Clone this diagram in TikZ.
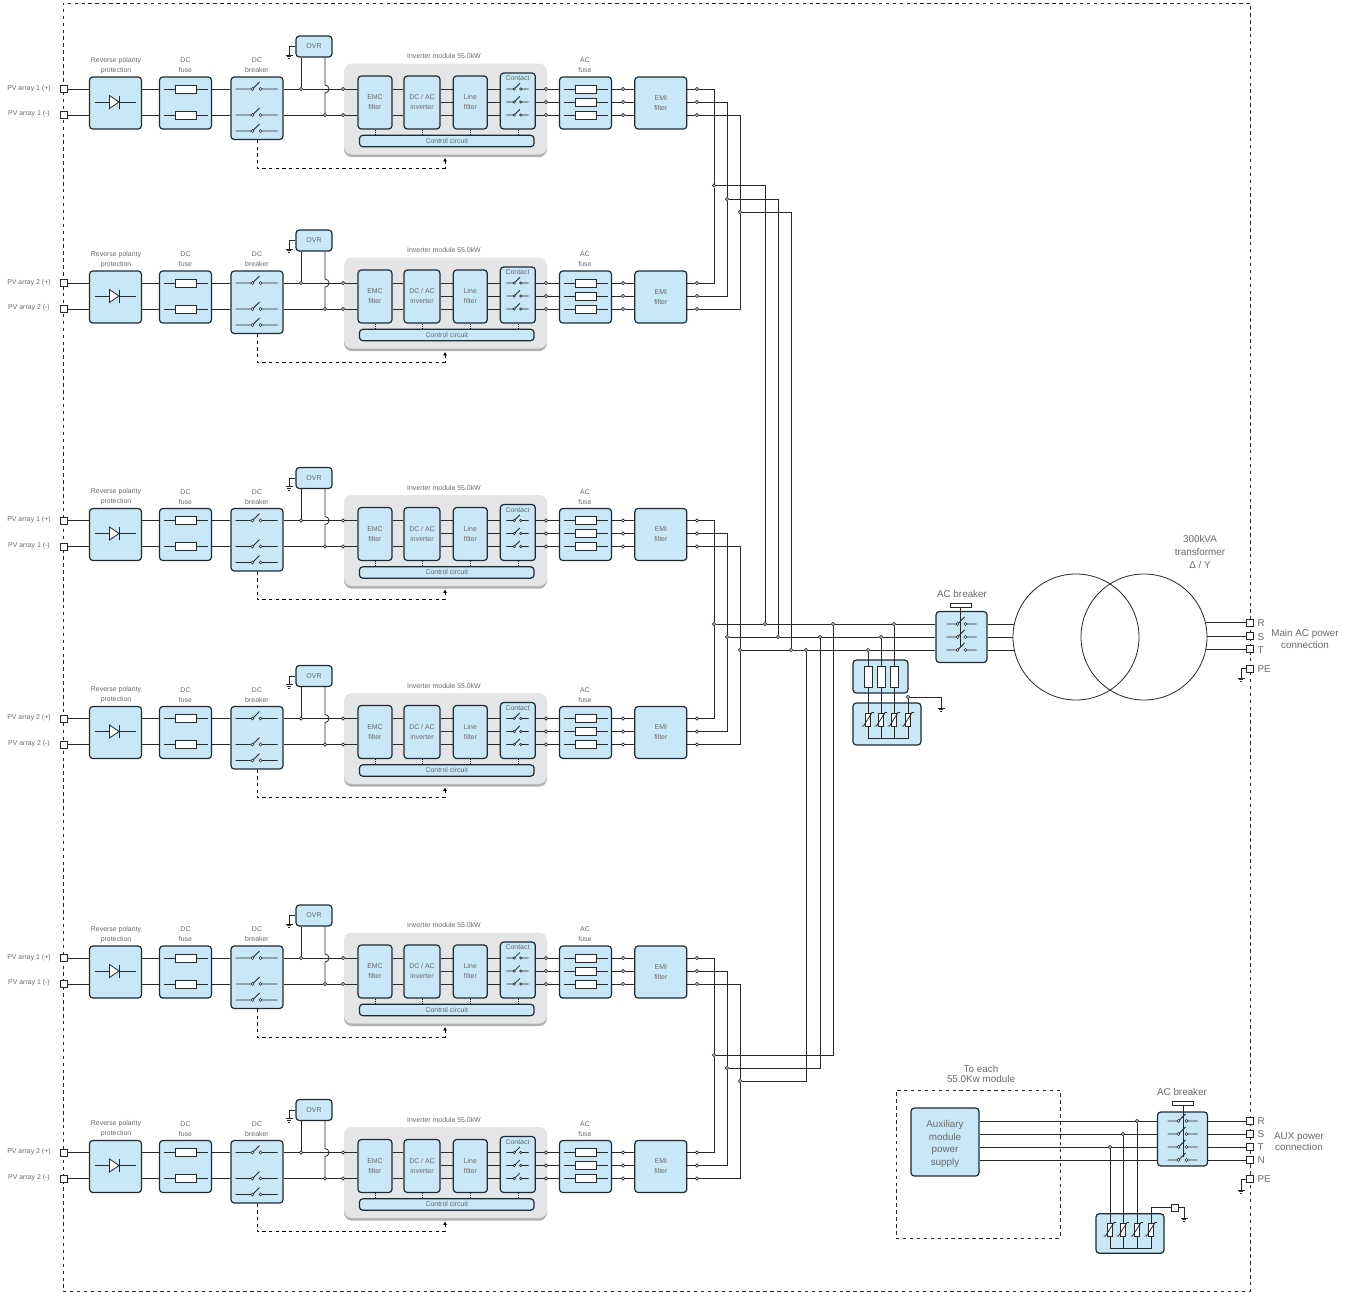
\documentclass[tikz,border=0pt]{standalone}
\usepackage{fontspec}
\setmainfont{Liberation Sans}
\usetikzlibrary{positioning}
\usetikzlibrary{shadows}
\usetikzlibrary{arrows.meta}
\definecolor{Box-blue}{RGB}{200,231,247}
\definecolor{Box-line}{RGB}{30,42,50}
\definecolor{Mod-gray}{RGB}{228,229,230}
\definecolor{Wire-dark}{RGB}{40,40,40}
\definecolor{Txt-gray}{RGB}{105,105,105}

\begin{document}
\begin{tikzpicture}[x=0.75pt, y=-0.75pt]
    \tikzset{ blk/.style={draw=Box-line, fill=Box-blue, rounded corners=2.5pt, line width=.9pt, inner sep=0pt, minimum width=39pt, minimum height=39pt} }
    \tikzset{ mdb/.style={fill=Mod-gray, rounded corners=6pt, inner sep=0pt, minimum width=152.25pt, minimum height=68.25pt, drop shadow={shadow xshift=0pt, shadow yshift=-2pt, fill=black, opacity=.3}} }
    \tikzset{ trm/.style={draw=Wire-dark, fill=white, line width=.7pt, inner sep=0pt, minimum size=5.25pt} }
    \tikzset{ dot/.style={circle, draw=Wire-dark, fill=white, line width=.5pt, inner sep=0pt, minimum size=2.5pt} }
    \tikzset{ hdl/.style={draw=Wire-dark, fill=white, line width=.5pt, inner sep=0pt, minimum width=15.75pt, minimum height=3pt} }
    \tikzset{ vrs/.style={draw=Wire-dark, fill=white, line width=.5pt, inner sep=0pt, minimum width=3.75pt, minimum height=9.75pt} }
    \tikzset{ frm/.style={draw=Wire-dark, line width=.6pt, dash pattern=on 2.6pt off 2.6pt, inner sep=0pt} }
    \tikzset{ wr/.style={draw=Wire-dark, line width=.6pt} }
    \tikzset{ txs/.style={text=Txt-gray, align=center, inner sep=0pt, font=\fontsize{5.2pt}{7.5pt}\selectfont} }
    \tikzset{ txb/.style={text=Txt-gray, align=center, inner sep=0pt, font=\fontsize{7.4pt}{9pt}\selectfont} }
    \tikzset{ sw/.pic={\draw[wr] (-#1,0) -- (-4,0) (-4,0) -- (3,-7) (4,0) -- (#1,0);
                       \draw[wr, fill=white, line width=.5pt] (-4,0) circle[radius=1.5] (4,0) circle[radius=1.5];} }
    \tikzset{ fz/.pic={\draw[wr, fill=white] (-10.5,-4) rectangle (10.5,4);} }
    \tikzset{ fzl/.pic={\draw[wr] (-22,0) -- (22,0); \draw[wr, fill=white] (-10.5,-4) rectangle (10.5,4);} }
    \tikzset{ dio/.pic={\draw[wr] (-21,0) -- (-6,0) (4,0) -- (20,0) (4,-6.5) -- (4,6.5);
                        \draw[wr, fill=white] (-6,-6.5) -- (3.5,0) -- (-6,6.5) -- cycle;} }
    \tikzset{ gnd/.pic={\draw[wr] (-3.5,0) -- (3.5,0) (-2.2,1.8) -- (2.2,1.8) (-1,3.6) -- (1,3.6);} }
    \tikzset{ vsl/.pic={\draw[wr] (-6.5,6.5) -- (-4.5,6.5) -- (4,-7) -- (6,-7);} }

    \useasboundingbox (0,0) rectangle (1353,1292);
    \node[frm, minimum width=890.25pt, minimum height=966pt] (fr) at (656.5,647) {};

    \foreach \i/\y/\n in {1/89/1, 2/283/2, 3/520.5/1, 4/718.5/2, 5/958/1, 6/1152.5/2} {
      \begin{scope}[shift={(0,\y)}]
        \node[trm] (pp\i) at (64,0)  {};
        \node[trm] (pn\i) at (64,26) {};
        \node[txs] (lp\i) at (29,-0.5) {PV array \n\ (+)};
        \node[txs] (ln\i) at (29,25)   {PV array \n\ (-)};

        \node[mdb] (im\i) at (445.5,20) {};
        \node[txs] (lm\i) at (444,-32.5) {Inverter module 55.0kW};

        \node[blk]                        (rp\i) at (115.5,14) {};
        \node[blk, right=12.6pt of rp\i]  (df\i)               {};
        \node[blk, minimum height=46.9pt] (br\i) at (257,19.25) {};
        \node[blk, minimum width=27pt, minimum height=15.75pt, txs] (ov\i) at (314,-42.5) {OVR};
        \node[txs] (l1\i) at (116,-23.5)   {Reverse polarity\\protection};
        \node[txs] (l2\i) at (185.5,-23.5) {DC\\fuse};
        \node[txs] (l3\i) at (257,-23.5)   {DC\\breaker};
        \node[txs] (l4\i) at (585,-23.5)   {AC\\fuse};

        \node[blk, txs, minimum width=25.5pt, minimum height=39.75pt]                      (em\i) at (375,13.5) {EMC\\filter};
        \node[blk, txs, minimum width=27pt, minimum height=39.75pt, right=8.1pt of em\i]   (dc\i)               {DC / AC\\inverter};
        \node[blk, txs, minimum width=25.5pt, minimum height=39.75pt, right=9.1pt of dc\i] (lf\i)               {Line\\filter};
        \node[blk, minimum width=26.25pt, minimum height=42pt, right=8.85pt of lf\i, yshift=1.1pt] (ct\i)       {};
        \node[txs] (lc\i) at (517.5,-10.5) {Contact};
        \node[blk, txs, minimum width=131pt, minimum height=8.5pt] (cc\i) at (446.75,52) {Control circuit};
        \node[blk]                      (af\i) at (585.5,14) {};
        \node[blk, txs, right=16.6pt of af\i] (ef\i)         {EMI\\filter};

        \node[dot] (o1\i) at (301,0)  {};
        \node[dot] (o2\i) at (325,26) {};
        \node[dot] (o3\i) at (343,0)  {};
        \node[dot] (o4\i) at (343,26) {};
        \coordinate (og\i) at (289,-34);
        \coordinate (ob\i) at (325,0);
        \coordinate (dn\i) at (445,79);
        \coordinate (dt\i) at (445,69);

        \foreach \p/\q in {a/0, b/13, c/26} {
          \node[dot] (da\p\i) at (546,\q) {};
          \node[dot] (db\p\i) at (623,\q) {};
          \node[dot] (eo\p\i) at (697,\q) {};
          \draw[wr] (dc\i.east |- da\p\i) -- (lf\i.west |- da\p\i);
          \draw[wr] (lf\i.east |- da\p\i) -- (ct\i.west |- da\p\i);
          \draw[wr] (ct\i.east |- da\p\i) -- (da\p\i);
          \draw[wr] (da\p\i) -- (af\i.west |- da\p\i);
          \draw[wr] (af\i.east |- db\p\i) -- (db\p\i);
          \draw[wr] (db\p\i) -- (ef\i.west |- db\p\i);
          \draw[wr] (ef\i.east |- eo\p\i) -- (eo\p\i);
          \pic[scale=.8] at (517.5,\q) {sw=14};
          \pic at (585.5,\q) {fzl};
        }

        \draw[wr] (pp\i) -- (rp\i.west |- pp\i);
        \draw[wr] (pn\i) -- (rp\i.west |- pn\i);
        \draw[wr] (rp\i.east |- pp\i) -- (df\i.west |- pp\i);
        \draw[wr] (rp\i.east |- pn\i) -- (df\i.west |- pn\i);
        \draw[wr] (df\i.east |- pp\i) -- (br\i.west |- pp\i);
        \draw[wr] (df\i.east |- pn\i) -- (br\i.west |- pn\i);
        \draw[wr] (br\i.east |- pp\i) -- (o1\i);
        \draw[wr] (o1\i) -- (o3\i);
        \draw[wr] (br\i.east |- pn\i) -- (o2\i);
        \draw[wr] (o2\i) -- (o4\i);
        \draw[wr] (o3\i) -- (em\i.west |- o3\i);
        \draw[wr] (o4\i) -- (em\i.west |- o4\i);
        \draw[wr] (em\i.east |- o3\i) -- (dc\i.west |- o3\i);
        \draw[wr] (em\i.east |- o4\i) -- (dc\i.west |- o4\i);
        \draw[wr] (ov\i.south -| o1\i) -- (o1\i);
        \draw[wr] (ov\i.south -| ob\i) -- ([yshift=3pt]ob\i) arc[start angle=90, end angle=-90, radius=3pt] -- (o2\i);
        \draw[wr] (ov\i.west) -| (og\i);
        \pic at (og\i) {gnd};
        \draw[densely dotted, line width=.5pt] (em\i.south) -- (em\i.south |- cc\i.north);
        \draw[densely dotted, line width=.5pt] (dc\i.south) -- (dc\i.south |- cc\i.north);
        \draw[densely dotted, line width=.5pt] (lf\i.south) -- (lf\i.south |- cc\i.north);
        \draw[densely dotted, line width=.5pt] (ct\i.south) -- (ct\i.south |- cc\i.north);
        \draw[->,>={Latex[length=2.5pt,width=3pt]}, line width=.5pt, dash pattern=on 2.5pt off 2.5pt] (br\i.south) |- (dn\i) -- (dt\i);

        \pic at (115.5,13) {dio};
        \pic at (185.5,0)  {fzl};
        \pic at (185.5,26) {fzl};
        \pic at (256.5,0)  {sw=21};
        \pic at (256.5,26) {sw=21};
        \pic at (256.5,42) {sw=21};
      \end{scope}
    }

    \node[blk, minimum width=41.25pt, minimum height=24.75pt] (sf) at (880.5,676.5) {};
    \node[blk, minimum width=51pt, minimum height=31.5pt]     (sa) at (887,724)     {};
    \node[blk, minimum width=38.25pt, minimum height=38.25pt] (ac) at (961.5,637)   {};
    \node[hdl] (ah) at (960.5,605.5) {};
    \node[txb] (la) at (962,594) {AC breaker};
    \coordinate (as) at (960.5,647);
    \draw[wr, line width=.5pt] (ah.south) -- (as);
    \node[circle, draw=Wire-dark, line width=.6pt, inner sep=0pt, minimum size=94.5pt] (tl) at (1076,637) {};
    \node[circle, draw=Wire-dark, line width=.6pt, inner sep=0pt, minimum size=94.5pt] (tr) at (1144,637) {};
    \node[txb, font=\fontsize{7.4pt}{9.8pt}\selectfont] (lt) at (1200,552) {300kVA\\transformer\\Δ / Y};
    \node[txb, font=\fontsize{7.4pt}{8.8pt}\selectfont] (lm) at (1305,639) {Main AC power\\connection};

    \foreach \p/\xa/\xb/\xc/\xs/\yu/\yd/\yb/\yt/\al/\ar/\lb in {a/714/765/833/894/185.5/1055/624/622.5/168.1/11.9/R, b/727/778/820/881/199/1068/637/636/180/0/S, c/740/791/806/868/212/1081/650/649/191.9/-11.9/T} {
      \node[dot] (ju\p) at (\xa,\yu) {};
      \node[dot] (jd\p) at (\xa,\yd) {};
      \node[dot] (bs\p) at (\xa,\yb) {};
      \node[dot] (bu\p) at (\xb,\yb) {};
      \node[dot] (bd\p) at (\xc,\yb) {};
      \node[dot] (bt\p) at (\xs,\yb) {};
      \node[vrs] (va\p) at (\xs,719.5) {};
      \node[trm] (rt\p) at (1250,\yt) {};
      \node[txb, right=2.5pt of rt\p, yshift=-.7pt] (lr\p) {\lb};

      \draw[wr] (eo\p1) -| (ju\p);
      \draw[wr] (eo\p2) -| (ju\p);
      \draw[wr] (ju\p) -| (bu\p);
      \draw[wr] (eo\p3) -| (bs\p);
      \draw[wr] (eo\p4) -| (bs\p);
      \draw[wr] (eo\p5) -| (jd\p);
      \draw[wr] (eo\p6) -| (jd\p);
      \draw[wr] (jd\p) -| (bd\p);
      \draw[wr] (bs\p) -- (bu\p);
      \draw[wr] (bu\p) -- (bd\p);
      \draw[wr] (bd\p) -- (bt\p);
      \draw[wr] (bt\p) -- (ac.west |- bt\p);
      \draw[wr] (bt\p) -- (va\p);
      \draw[wr] (ac.east |- bt\p) -- (tl.\al |- bt\p);
      \draw[wr] (tr.\ar |- rt\p) -- (rt\p);
      \pic[rotate=90] at (\xs,677) {fz};
      \pic at (\xs,719.5) {vsl};
      \pic at (961.5,\yb) {sw=15};
    }
    \node[dot] (sg) at (908,697) {};
    \node[vrs] (vad) at (908,719.5) {};
    \coordinate (sb) at (868,738);
    \coordinate (sq) at (941,708);
    \draw[wr] (sg) -- (vad);
    \draw[wr] (sg) -| (sq);
    \pic at (sq) {gnd};
    \pic at (908,719.5) {vsl};
    \draw[wr] (vac.south) -- (sb) -- (sb -| vad) -- (vad.south);
    \draw[wr] (vab.south) -- (vab.south |- sb);
    \draw[wr] (vaa.south) -- (vaa.south |- sb);

    \node[trm] (pe) at (1250,668.5) {};
    \node[txb, right=2.5pt of pe, yshift=-.5pt] (lpe) {PE};
    \coordinate (pg) at (1241,678);
    \draw[wr] (pe.west) -| (pg);
    \pic at (pg) {gnd};

    \node[frm, minimum width=123pt, minimum height=111pt] (xf) at (978,1164) {};
    \node[txb, font=\fontsize{7.4pt}{8pt}\selectfont] (lx) at (981,1074) {To each\\55.0Kw module};
    \node[blk, minimum width=51pt, minimum height=51pt] (xs) at (945,1142) {};
    \node[txb, font=\fontsize{7.4pt}{9.3pt}\selectfont] (lq) at (945,1144) {Auxiliary\\module\\power\\supply};
    \node[blk, minimum width=37.5pt, minimum height=40.5pt] (xb) at (1182.5,1139) {};
    \node[hdl] (xh) at (1183,1103.5) {};
    \node[txb] (lb) at (1182,1092) {AC breaker};
    \node[blk, minimum width=51pt, minimum height=29.6pt] (xa) at (1130,1233.5) {};
    \node[txb, font=\fontsize{7.4pt}{8.6pt}\selectfont] (lw) at (1299,1141.5) {AUX power\\connection};
    \coordinate (xe) at (1183,1157);
    \draw[wr, line width=.5pt] (xh.south) -- (xe);

    \foreach \p/\yy/\lb in {a/1121/R, b/1134/S, c/1147/T, d/1160/N} {
      \node[trm] (xt\p) at (1250,\yy) {};
      \node[txb, right=2.5pt of xt\p] (ll\p) {\lb};
      \draw[wr] (xs.east |- xt\p) -- (xb.west |- xt\p);
      \draw[wr] (xb.east |- xt\p) -- (xt\p);
      \pic at (1182.5,\yy) {sw=15};
    }
    \foreach \p/\xx/\yy in {a/1137/1121, b/1123/1134, c/1110/1147} {
      \node[dot] (xd\p) at (\xx,\yy) {};
      \node[vrs] (xv\p) at (\xx,1229.5) {};
      \draw[wr] (xd\p) -- (xv\p);
      \pic at (\xx,1229.5) {vsl};
    }
    \node[vrs] (xvd) at (1151,1229.5) {};
    \pic at (1151,1229.5) {vsl};
    \node[trm] (xq) at (1175,1207.5) {};
    \coordinate (xc) at (1110,1248);
    \coordinate (xg) at (1184,1218);
    \draw[wr] (xvd.north) |- (xq.west);
    \draw[wr] (xq.east) -| (xg);
    \pic at (xg) {gnd};
    \draw[wr] (xvc.south) -- (xc) -- (xc -| xvd) -- (xvd.south);
    \draw[wr] (xvb.south) -- (xvb.south |- xc);
    \draw[wr] (xva.south) -- (xva.south |- xc);

    \node[trm] (xp) at (1250,1179) {};
    \node[txb, right=2.5pt of xp] (lxp) {PE};
    \coordinate (xr) at (1241,1190);
    \draw[wr] (xp.west) -| (xr);
    \pic at (xr) {gnd};
  \end{tikzpicture}
\end{document}
